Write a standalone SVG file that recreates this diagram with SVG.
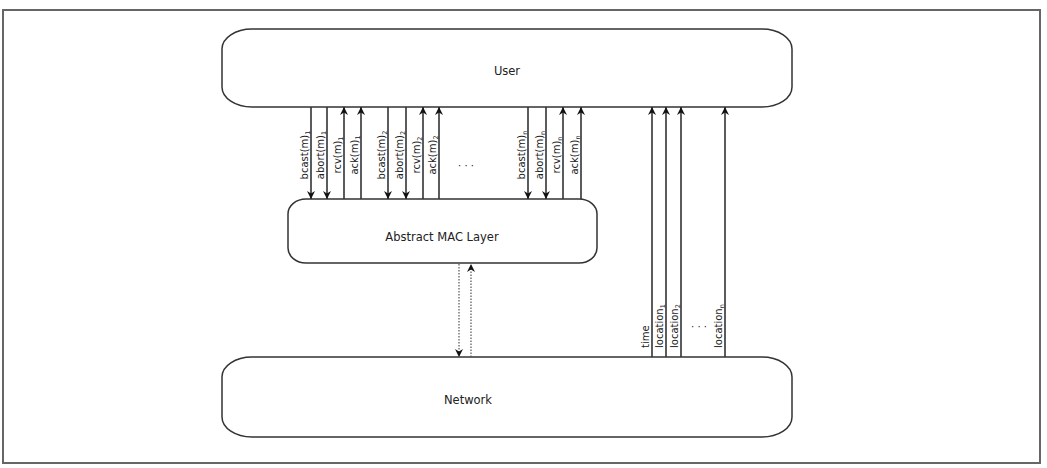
<svg xmlns="http://www.w3.org/2000/svg" width="1047" height="468" viewBox="0 0 1047 468">
<style>
.box{fill:#fff;stroke:#333;stroke-width:1.5}
.frame{fill:#fff;stroke:#666;stroke-width:2}
.t{font-family:"DejaVu Sans",sans-serif;font-size:11.5px;fill:#222;text-anchor:middle}
.l{font-family:"DejaVu Sans",sans-serif;font-size:10px;fill:#222}
.c{stroke:#333;stroke-width:1.6;fill:none}
.d{stroke:#555;stroke-width:1.2;fill:none;stroke-dasharray:1.5 1.5}
.s{font-size:6.5px}
</style>
<defs>
<marker id="ah" viewBox="0 0 10 10" refX="10" refY="5" markerWidth="12" markerHeight="8" markerUnits="userSpaceOnUse" orient="auto">
<path d="M0,0 L10,5 L0,10 L3,5 Z" fill="#111"/>
</marker>
</defs>
<rect class="frame" x="3" y="10" width="1037" height="453"/>
<g id="user"><rect class="box" x="222" y="29" width="570" height="78" rx="30" ry="20"/><text class="t" x="507" y="75">User</text></g>
<g id="mac"><rect class="box" x="288" y="199" width="309" height="64" rx="18" ry="15"/><text class="t" x="442" y="241">Abstract MAC Layer</text></g>
<g id="network"><rect class="box" x="222" y="357" width="570" height="80" rx="30" ry="20"/><text class="t" x="468" y="404">Network</text></g>
<g id="connectors">
<line class="c" x1="311" y1="107" x2="311" y2="199" marker-end="url(#ah)"/>
<line class="c" x1="327" y1="107" x2="327" y2="199" marker-end="url(#ah)"/>
<line class="c" x1="344" y1="199" x2="344" y2="107" marker-end="url(#ah)"/>
<line class="c" x1="361" y1="199" x2="361" y2="107" marker-end="url(#ah)"/>
<line class="c" x1="388" y1="107" x2="388" y2="199" marker-end="url(#ah)"/>
<line class="c" x1="406" y1="107" x2="406" y2="199" marker-end="url(#ah)"/>
<line class="c" x1="423" y1="199" x2="423" y2="107" marker-end="url(#ah)"/>
<line class="c" x1="439" y1="199" x2="439" y2="107" marker-end="url(#ah)"/>
<line class="c" x1="528" y1="107" x2="528" y2="199" marker-end="url(#ah)"/>
<line class="c" x1="546" y1="107" x2="546" y2="199" marker-end="url(#ah)"/>
<line class="c" x1="563" y1="199" x2="563" y2="107" marker-end="url(#ah)"/>
<line class="c" x1="581" y1="199" x2="581" y2="107" marker-end="url(#ah)"/>
<line class="c" x1="652" y1="357" x2="652" y2="107" marker-end="url(#ah)"/>
<line class="c" x1="666" y1="357" x2="666" y2="107" marker-end="url(#ah)"/>
<line class="c" x1="681" y1="357" x2="681" y2="107" marker-end="url(#ah)"/>
<line class="c" x1="725" y1="357" x2="725" y2="107" marker-end="url(#ah)"/>
<line class="d" x1="459" y1="264" x2="459" y2="357" marker-end="url(#ah)"/>
<line class="d" x1="471" y1="357" x2="471" y2="264" marker-end="url(#ah)"/>
</g>
<g id="labels" class="l">
<text transform="translate(308,155) rotate(-90)" text-anchor="middle">bcast(m)<tspan class="s" dy="1.5">1</tspan></text>
<text transform="translate(324,155) rotate(-90)" text-anchor="middle">abort(m)<tspan class="s" dy="1.5">1</tspan></text>
<text transform="translate(341,155) rotate(-90)" text-anchor="middle">rcv(m)<tspan class="s" dy="1.5">1</tspan></text>
<text transform="translate(358,155) rotate(-90)" text-anchor="middle">ack(m)<tspan class="s" dy="1.5">1</tspan></text>
<text transform="translate(385,155) rotate(-90)" text-anchor="middle">bcast(m)<tspan class="s" dy="1.5">2</tspan></text>
<text transform="translate(403,155) rotate(-90)" text-anchor="middle">abort(m)<tspan class="s" dy="1.5">2</tspan></text>
<text transform="translate(420,155) rotate(-90)" text-anchor="middle">rcv(m)<tspan class="s" dy="1.5">2</tspan></text>
<text transform="translate(436,155) rotate(-90)" text-anchor="middle">ack(m)<tspan class="s" dy="1.5">2</tspan></text>
<text transform="translate(525,155) rotate(-90)" text-anchor="middle">bcast(m)<tspan class="s" dy="1.5">n</tspan></text>
<text transform="translate(543,155) rotate(-90)" text-anchor="middle">abort(m)<tspan class="s" dy="1.5">n</tspan></text>
<text transform="translate(560,155) rotate(-90)" text-anchor="middle">rcv(m)<tspan class="s" dy="1.5">n</tspan></text>
<text transform="translate(578,155) rotate(-90)" text-anchor="middle">ack(m)<tspan class="s" dy="1.5">n</tspan></text>
<text x="466" y="169" text-anchor="middle">· · ·</text>
<text transform="translate(649,348) rotate(-90)">time</text>
<text transform="translate(663,348) rotate(-90)">location<tspan class="s" dy="1.5">1</tspan></text>
<text transform="translate(678,348) rotate(-90)">location<tspan class="s" dy="1.5">2</tspan></text>
<text x="699" y="330" text-anchor="middle">· · ·</text>
<text transform="translate(722,348) rotate(-90)">location<tspan class="s" dy="1.5">n</tspan></text>
</g>
</svg>
